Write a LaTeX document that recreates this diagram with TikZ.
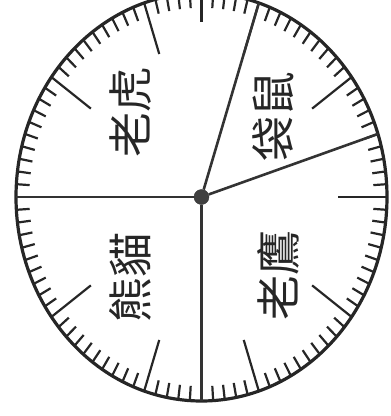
\documentclass[tikz,border=0pt]{standalone}
\usepackage{fontspec}
\newfontfamily\cjk{Noto Sans CJK TC}
\usepackage{tikz}
\usetikzlibrary{calc}

\begin{document}
\begin{tikzpicture}[
  x=1pt, y=1pt,
  rim/.style={draw=black!85, line width=3.2pt},
  tick/.style={draw=black!85, line width=2.2pt},
  spoke/.style={draw=black!80, line width=2.6pt},
  hub/.style={circle, fill=black!75, draw=black!80, minimum size=15pt, inner sep=0pt},
  animal/.style={rotate=90, font={\cjk\fontsize{45}{45}\selectfont}, text=black!85}
]

\def\Rx{185.5}
\def\Ry{204}

\useasboundingbox (-201.5,-219) rectangle (189.5,197);

\draw[rim] (0,0) ellipse [x radius=\Rx, y radius=\Ry];

% 100 ticks, long every 10, medium at the quarter
\foreach \i in {0,...,99}{
  \pgfmathsetmacro\ang{\i*3.6}
  \pgfmathsetmacro\len{ifthenelse(mod(\i,10)==0, 0.263, ifthenelse(mod(\i,25)==0, 0.14, 0.072))}
  \draw[tick] ({\Rx*cos(\ang)}, {\Ry*sin(\ang)})
    -- ({\Rx*(1-\len)*cos(\ang)}, {\Ry*(1-\len)*sin(\ang)});
}

\node[hub] (hub) at (0,0) {};

\coordinate (rimW)  at (-\Rx, 0);
\coordinate (rimS)  at (0, -\Ry);
\coordinate (rimNE) at ({\Rx*cos(72)}, {\Ry*sin(72)});
\coordinate (rimE)  at ({\Rx*cos(18)}, {\Ry*sin(18)});

\draw[spoke] (hub) -- (rimW);
\draw[spoke] (hub) -- (rimS);
\draw[spoke] (hub) -- (rimNE);
\draw[spoke] (hub) -- (rimE);

\node[animal] (tiger) at (-71.5, 85)  {老虎};
\node[animal] (roo)   at (71.5, 81)   {袋鼠};
\node[animal] (panda) at (-71.5, -80) {熊貓};
\node[animal] (eagle) at (76.5, -78)  {老鷹};

\end{tikzpicture}
\end{document}
